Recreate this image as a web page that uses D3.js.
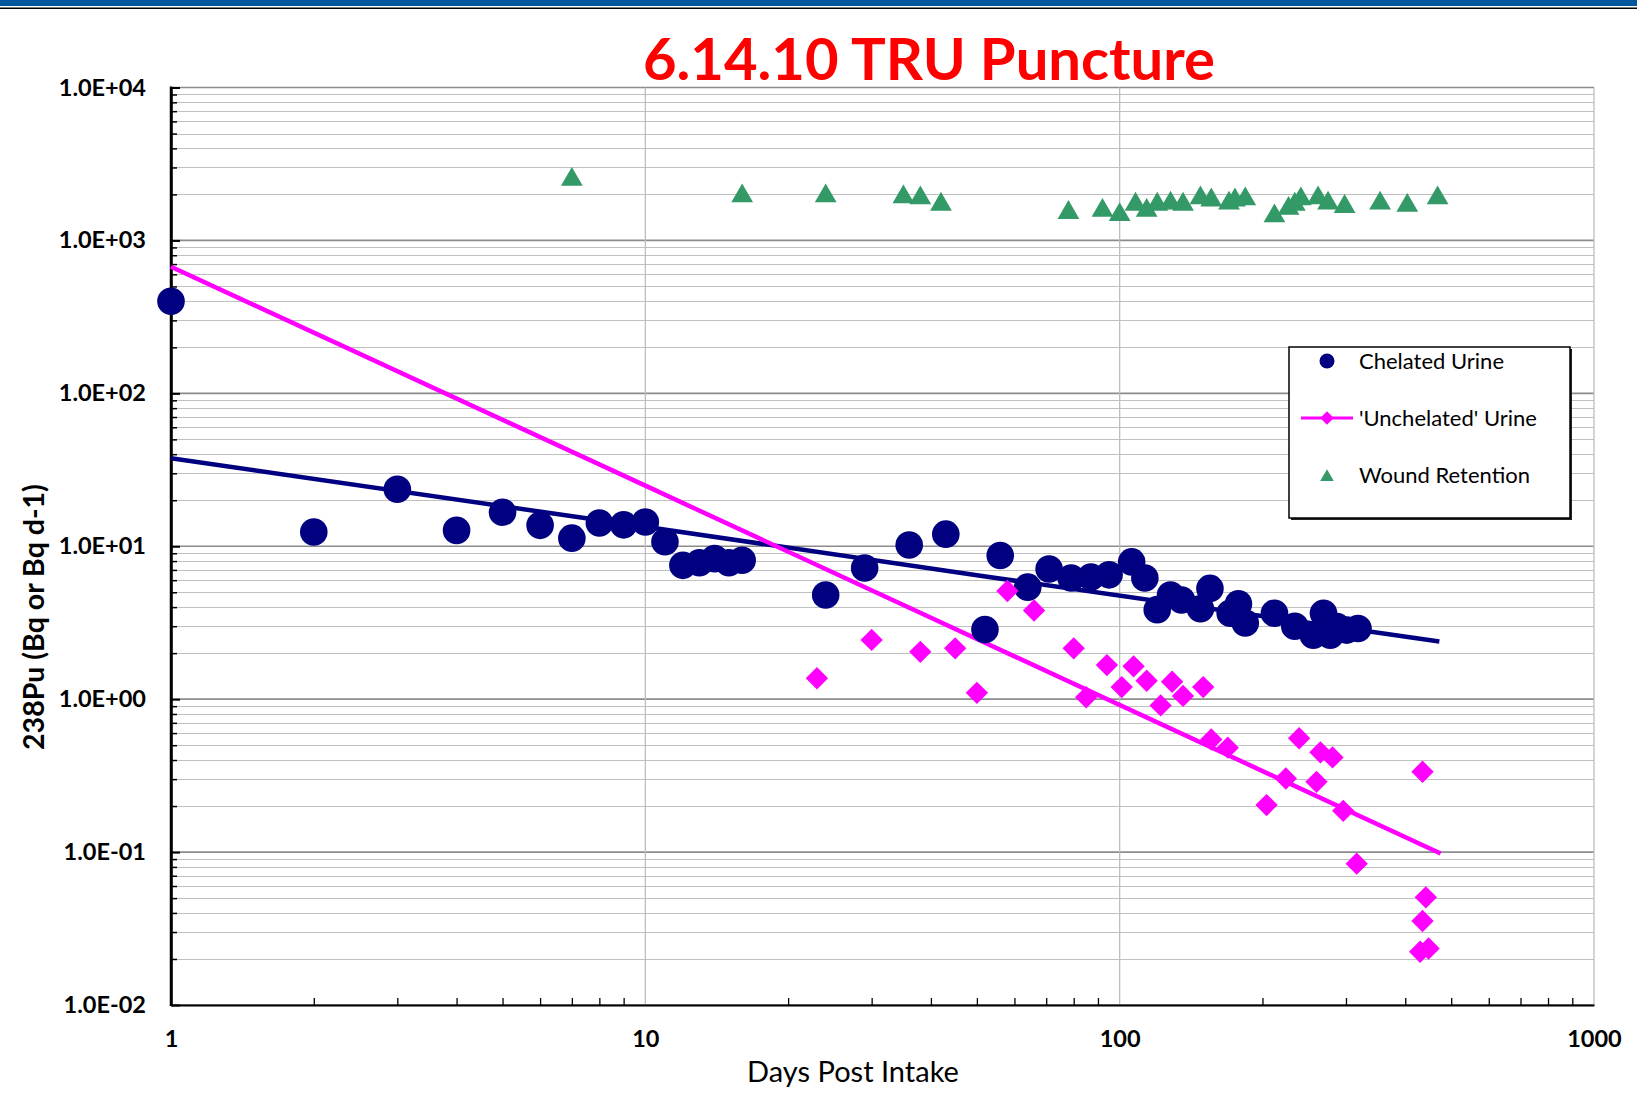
<!DOCTYPE html>
<html>
<head>
<meta charset="utf-8">
<script src="https://cdn.jsdelivr.net/npm/d3@7"></script>
<style>
  html, body { margin: 0; padding: 0; background: #ffffff; }
  svg { display: block; }
</style>
</head>
<body>
<svg id="chart" width="1637" height="1109"></svg>
<script>
// ---------------- data ----------------
const chartTitle = "6.14.10 TRU Puncture";
const xAxisTitle = "Days Post Intake";
const yAxisTitle = "238Pu (Bq or Bq d-1)";

const xTickValues = [1, 10, 100, 1000];
const xTickLabels = ["1", "10", "100", "1000"];
const yTickValues = [0.01, 0.1, 1, 10, 100, 1000, 10000];
const yTickLabels = ["1.0E-02", "1.0E-01", "1.0E+00", "1.0E+01", "1.0E+02", "1.0E+03", "1.0E+04"];

const chelatedDays = [1,2,3,4,5,6,7,8,9,10,11,12,13,14,15,16,24,29,36,43,52,56,64,71,79,87,95,106,113,120,128,135,148,155,171,178,184,212,234,256,269,278,287,301,318];
const chelatedValues = [400,12.4,23.6,12.7,16.7,13.7,11.3,14.2,13.8,14.4,10.7,7.5,7.8,8.3,7.8,8.1,4.8,7.2,10.2,12.0,2.85,8.7,5.4,7.1,6.2,6.3,6.5,7.9,6.2,3.85,4.8,4.45,3.9,5.3,3.65,4.2,3.15,3.65,3.0,2.62,3.65,2.62,2.98,2.83,2.9];

const unchelatedDays = [23,30,38,45,50,58,66,80,85,94,101,107,114,122,129,136,150,156,169,204,224,239,260,265,281,296,316,435,442,435,430,448];
const unchelatedValues = [1.37,2.44,2.04,2.15,1.1,5.1,3.8,2.15,1.03,1.67,1.2,1.64,1.32,0.91,1.3,1.05,1.2,0.545,0.482,0.203,0.303,0.555,0.288,0.449,0.416,0.186,0.084,0.335,0.0506,0.0354,0.0223,0.0234];

const woundDays = [7,16,24,35,38,42,78,92,100,108,114,120,128,136,148,156,170,175,184,212,227,234,241,262,275,298,354,404,468];
const woundValues = [2620,2040,2040,2010,1980,1800,1590,1640,1540,1800,1640,1800,1830,1800,1980,1920,1830,1920,1950,1510,1690,1800,1950,1980,1830,1740,1830,1770,1980];

const chelatedFitDays = [1, 10, 53, 472];
const chelatedFitValues = [37.6, 13.4, 6.3, 2.38];
const unchelatedFitDays = [1, 10, 475];
const unchelatedFitValues = [673, 24.9, 0.098];

const legendLabels = ["Chelated Urine", "'Unchelated' Urine", "Wound Retention"];

// ---------------- styles ----------------
const NAVY = "#000080", MAGENTA = "#FF00FF", GREEN = "#339966";
const FONT = "Lato, 'Open Sans', 'DejaVu Sans', sans-serif";

const svg = d3.select("#chart");
const L = 171, R = 1594, T = 87.5, B = 1005;

const x = d3.scaleLog().domain([1, 1000]).range([L, R]);
const y = d3.scaleLog().domain([0.01, 10000]).range([B, T]);

// top banner
svg.append("rect").attr("x", 0).attr("y", 0).attr("width", 1637).attr("height", 6).attr("fill", "#00579E");
svg.append("rect").attr("x", 0).attr("y", 7.5).attr("width", 1637).attr("height", 1.5).attr("fill", "#000");

// minor / major values
const yMinor = [];
for (let e = -2; e < 4; e++) for (let k = 2; k <= 9; k++) yMinor.push(k * Math.pow(10, e));
const xMinor = [];
for (let e = 0; e < 3; e++) for (let k = 2; k <= 9; k++) xMinor.push(k * Math.pow(10, e));

// horizontal gridlines
const grid = svg.append("g");
grid.selectAll("line.hmin").data(yMinor).enter().append("line")
  .attr("x1", L).attr("x2", R)
  .attr("y1", d => Math.round(y(d)) + 0.5).attr("y2", d => Math.round(y(d)) + 0.5)
  .attr("stroke", "#c0c0c0").attr("stroke-width", 1.2);
grid.selectAll("line.hmaj").data(yTickValues).enter().append("line")
  .attr("x1", L).attr("x2", R)
  .attr("y1", d => y(d)).attr("y2", d => y(d))
  .attr("stroke", "#8c8c8c").attr("stroke-width", 1.6);
// vertical gridlines
grid.selectAll("line.v").data(xTickValues.slice(1)).enter().append("line")
  .attr("x1", d => x(d)).attr("x2", d => x(d))
  .attr("y1", T).attr("y2", B)
  .attr("stroke", "#bdbdbd").attr("stroke-width", 1.3);

// axes
const yAxis = d3.axisLeft(y).tickValues(yTickValues).tickSize(-9).tickSizeOuter(0).tickPadding(25)
  .tickFormat((d, i) => yTickLabels[i]);
const gy = svg.append("g").attr("transform", `translate(${L},0)`).call(yAxis);
gy.select(".domain").attr("stroke", "#000").attr("stroke-width", 2.5);
gy.selectAll(".tick line").attr("stroke", "#000").attr("stroke-width", 2);
gy.selectAll(".tick text").attr("font-family", FONT).attr("font-size", 23.5).attr("font-weight", 700).attr("fill", "#000");

const yMinorAxis = d3.axisLeft(y).tickValues(yMinor).tickSize(-6).tickSizeOuter(0).tickFormat("");
const gym = svg.append("g").attr("transform", `translate(${L},0)`).call(yMinorAxis);
gym.select(".domain").remove();
gym.selectAll(".tick line").attr("stroke", "#000").attr("stroke-width", 1.5);

const xAxis = d3.axisBottom(x).tickValues(xTickValues).tickSize(0).tickSizeOuter(0).tickPadding(25)
  .tickFormat((d, i) => xTickLabels[i]);
const gx = svg.append("g").attr("transform", `translate(0,${B})`).call(xAxis);
gx.select(".domain").attr("stroke", "#000").attr("stroke-width", 2);
gx.selectAll(".tick text").attr("font-family", FONT).attr("font-size", 23.5).attr("font-weight", 700).attr("fill", "#000");

const xMinorAxis = d3.axisBottom(x).tickValues(xMinor).tickSize(-7).tickSizeOuter(0).tickFormat("");
const gxm = svg.append("g").attr("transform", `translate(0,${B})`).call(xMinorAxis);
gxm.select(".domain").remove();
gxm.selectAll(".tick line").attr("stroke", "#000").attr("stroke-width", 1.3);

// re-draw left axis line on top of gridlines
svg.append("line").attr("x1", L).attr("x2", L).attr("y1", T - 1).attr("y2", B + 1)
  .attr("stroke", "#000").attr("stroke-width", 2.5);

// fit lines
const line = d3.line().x(d => x(d[0])).y(d => y(d[1]));
svg.append("path").datum(chelatedFitDays.map((d, i) => [d, chelatedFitValues[i]]))
  .attr("d", line).attr("fill", "none").attr("stroke", NAVY).attr("stroke-width", 4.5);
svg.append("path").datum(unchelatedFitDays.map((d, i) => [d, unchelatedFitValues[i]]))
  .attr("d", line).attr("fill", "none").attr("stroke", MAGENTA).attr("stroke-width", 4.5);

// markers
const diamond = d3.symbol().type(d3.symbolSquare).size(250);
const triangle = d3.symbol().type(d3.symbolTriangle).size(205);

svg.append("g").selectAll("circle").data(chelatedDays.map((d, i) => [d, chelatedValues[i]])).enter()
  .append("circle").attr("cx", d => x(d[0])).attr("cy", d => y(d[1])).attr("r", 13.8).attr("fill", NAVY);

svg.append("g").selectAll("path").data(unchelatedDays.map((d, i) => [d, unchelatedValues[i]])).enter()
  .append("path").attr("d", diamond)
  .attr("transform", d => `translate(${x(d[0])},${y(d[1])}) rotate(45)`)
  .attr("fill", MAGENTA);

svg.append("g").selectAll("path").data(woundDays.map((d, i) => [d, woundValues[i]])).enter()
  .append("path").attr("d", triangle)
  .attr("transform", d => `translate(${x(d[0])},${y(d[1]) + 3})`)
  .attr("fill", GREEN);

// title
svg.append("text").attr("x", 929).attr("y", 80).attr("text-anchor", "middle")
  .attr("font-family", FONT).attr("font-weight", 700).attr("font-size", 58)
  .attr("fill", "#FF0000").text(chartTitle);

// axis titles
svg.append("text").attr("x", 853).attr("y", 1082).attr("text-anchor", "middle")
  .attr("font-family", FONT).attr("font-size", 29).attr("fill", "#000").text(xAxisTitle);
svg.append("text").attr("transform", "translate(44,617) rotate(-90)").attr("text-anchor", "middle")
  .attr("font-family", FONT).attr("font-weight", 700).attr("font-size", 28.5).attr("fill", "#000").text(yAxisTitle);

// legend
const lg = svg.append("g");
lg.append("rect").attr("x", 1291).attr("y", 349).attr("width", 281).attr("height", 171).attr("fill", "#222");
lg.append("rect").attr("x", 1289).attr("y", 347).attr("width", 281).attr("height", 171)
  .attr("fill", "#fff").attr("stroke", "#000").attr("stroke-width", 1.5);
const rowsY = [361, 418, 475];
const mx = 1327;
lg.append("circle").attr("cx", mx).attr("cy", rowsY[0]).attr("r", 7.5).attr("fill", NAVY);
lg.append("line").attr("x1", 1301).attr("x2", 1353).attr("y1", rowsY[1]).attr("y2", rowsY[1])
  .attr("stroke", MAGENTA).attr("stroke-width", 3);
lg.append("path").attr("d", d3.symbol().type(d3.symbolSquare).size(90))
  .attr("transform", `translate(${mx},${rowsY[1]}) rotate(45)`).attr("fill", MAGENTA);
lg.append("path").attr("d", d3.symbol().type(d3.symbolTriangle).size(80))
  .attr("transform", `translate(${mx},${rowsY[2] + 2})`).attr("fill", GREEN);
lg.selectAll("text").data(legendLabels).enter().append("text")
  .attr("x", 1359).attr("y", (d, i) => rowsY[i] + 8)
  .attr("font-family", FONT).attr("font-size", 22).attr("fill", "#000").text(d => d);
</script>
</body>
</html>
